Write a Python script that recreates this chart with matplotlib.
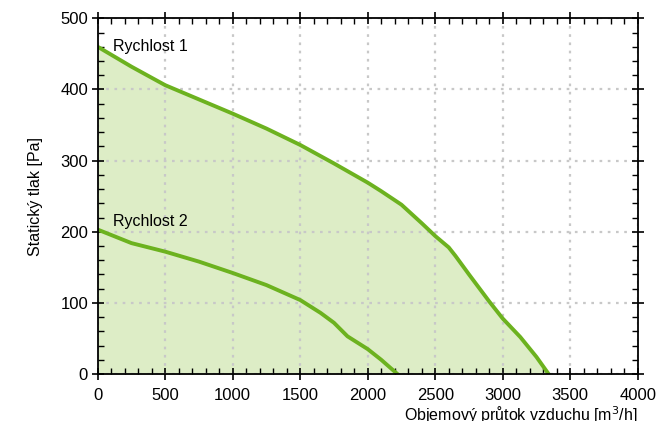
import numpy as np
import matplotlib
matplotlib.use('Agg')
import matplotlib.pyplot as plt
from matplotlib.ticker import MultipleLocator

plt.rcParams['font.family'] = ['Liberation Sans', 'DejaVu Sans']

# Rychlost 1 curve (flow m3/h, pressure Pa)
q1 = [0, 250, 500, 750, 1000, 1250, 1500, 1750, 2000, 2100, 2250, 2400, 2500, 2600, 2650,
      2750, 2900, 3000, 3130, 3250, 3340]
p1 = [460, 432, 406, 386, 366, 345, 322, 296, 269, 257, 238, 212, 194, 178, 166,
      140, 102, 78, 52, 24, 0]

# Rychlost 2 curve
q2 = [0, 250, 500, 750, 1000, 1250, 1500, 1650, 1750, 1850, 2000, 2100, 2220]
p2 = [203, 184, 172, 158, 142, 125, 104, 86, 72, 53, 35, 20, 0]

line_col = '#6cb21f'
fill_col = '#ddedc6'

fig = plt.figure(figsize=(6.59, 4.21), dpi=100)
ax = fig.add_axes([0.1483, 0.1116, 0.8194, 0.8449])

ax.fill_between(q1, p1, 0, color=fill_col, lw=0, zorder=1)
ax.plot(q1, p1, color=line_col, lw=2.8, zorder=3, solid_joinstyle='round')
ax.plot(q2, p2, color=line_col, lw=2.8, zorder=3, solid_joinstyle='round')

ax.text(115, 461, 'Rychlost 1', fontsize=11.5, va='center', ha='left', zorder=4)
ax.text(115, 215, 'Rychlost 2', fontsize=11.5, va='center', ha='left', zorder=4)

ax.set_xlim(0, 4000)
ax.set_ylim(0, 500)
ax.xaxis.set_major_locator(MultipleLocator(500))
ax.xaxis.set_minor_locator(MultipleLocator(100))
ax.yaxis.set_major_locator(MultipleLocator(100))
ax.yaxis.set_minor_locator(MultipleLocator(20))

ax.grid(True, which='major', color='#c8c8c8', linestyle=(0, (1.2, 2.5)), lw=1.6)
for g in ax.get_xgridlines() + ax.get_ygridlines():
    g.set_zorder(2)

ax.tick_params(which='major', direction='inout', length=8, width=1.2, labelsize=12,
               top=True, right=True, pad=3)
ax.tick_params(which='minor', direction='in', length=4, width=1, top=True, right=True)
ax.tick_params(axis='x', which='major', pad=6)
for s in ax.spines.values():
    s.set_linewidth(1.3)
    s.set_zorder(5)

ax.set_ylabel('Statický tlak [Pa]', fontsize=11.5, labelpad=12)
ax.set_xlabel('Objemový průtok vzduchu [m$^3$/h]', fontsize=11.5, loc='right', labelpad=1)

fig.savefig('out.png', dpi=100)
